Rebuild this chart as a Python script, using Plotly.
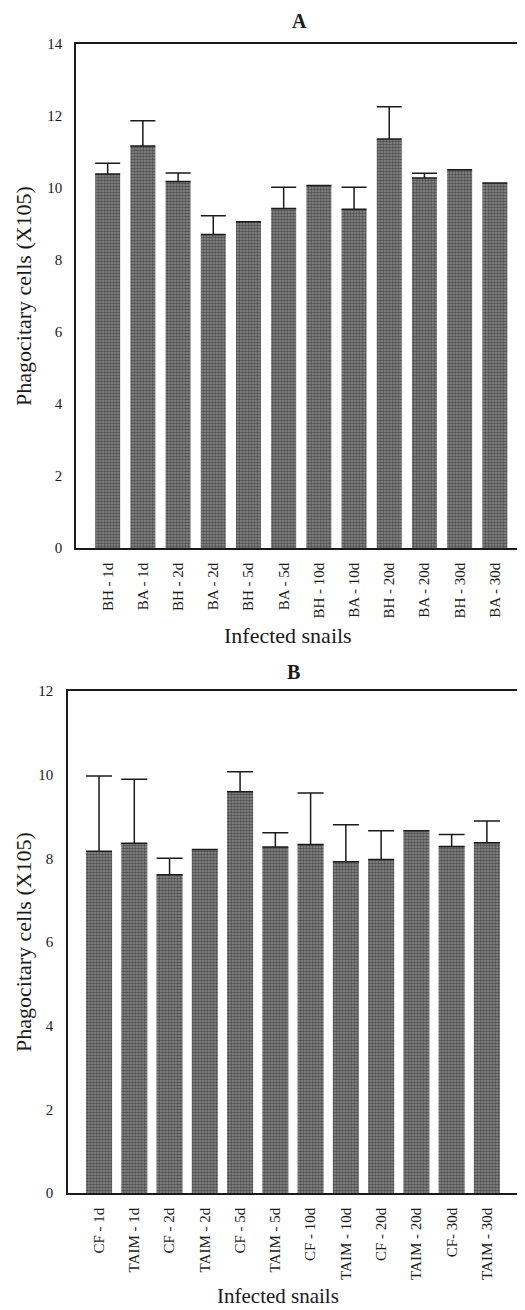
import plotly.graph_objects as go

W, H = 525, 1310
OFF = 8  # default page body margin shifts the figure by this much

cats_a = ["BH - 1d", "BA - 1d", "BH - 2d", "BA - 2d", "BH - 5d", "BA - 5d",
          "BH - 10d", "BA - 10d", "BH - 20d", "BA - 20d", "BH - 30d", "BA - 30d"]
vals_a = [10.39, 11.17, 10.18, 8.71, 9.06, 9.43, 10.07, 9.41, 11.36, 10.28, 10.51, 10.14]
err_a = [0.30, 0.70, 0.24, 0.52, None, 0.59, None, 0.61, 0.90, 0.13, None, None]

cats_b = ["CF - 1d", "TAIM - 1d", "CF - 2d", "TAIM - 2d", "CF - 5d", "TAIM - 5d",
          "CF - 10d", "TAIM - 10d", "CF - 20d", "TAIM - 20d", "CF- 30d", "TAIM - 30d"]
vals_b = [8.17, 8.36, 7.61, 8.21, 9.59, 8.27, 8.33, 7.92, 7.97, 8.66, 8.28, 8.37]
err_b = [1.80, 1.53, 0.39, None, 0.48, 0.34, 1.23, 0.88, 0.69, None, 0.29, 0.52]

yticks_a = [0, 2, 4, 6, 8, 10, 12, 14]
yticks_b = [0, 2, 4, 6, 8, 10, 12]

FONT = "Liberation Serif, Times New Roman, serif"
INK = "#1a1a1a"

def px(x):
    return (x - OFF) / W

def py(y):
    return 1 - (y - OFF) / H

pattern = dict(shape=".", fgcolor="#111111", bgcolor="#8c8c8c", size=3, solidity=0.55)

fig = go.Figure()
fig.add_trace(go.Bar(
    x=cats_a, y=vals_a, width=0.71, xaxis="x", yaxis="y",
    marker=dict(color="#505050", line=dict(width=0), pattern=pattern),
    error_y=dict(type="data", symmetric=False, array=err_a,
                 arrayminus=[0] * len(err_a), visible=True,
                 color=INK, thickness=1.5, width=12.5),
    showlegend=False,
))
fig.add_trace(go.Bar(
    x=cats_b, y=vals_b, width=0.74, xaxis="x2", yaxis="y2",
    marker=dict(color="#505050", line=dict(width=0), pattern=pattern),
    error_y=dict(type="data", symmetric=False, array=err_b,
                 arrayminus=[0] * len(err_b), visible=True,
                 color=INK, thickness=1.5, width=13),
    showlegend=False,
))

axis_common = dict(showline=True, mirror=True, linecolor=INK, linewidth=1.5,
                   showgrid=False, zeroline=False, ticks="", automargin=False,
                   tickfont=dict(family=FONT, size=15, color=INK))

def label(text, x, y, size, angle=0, bold=False):
    return dict(text=f"<b>{text}</b>" if bold else text, x=px(x), y=py(y),
                xref="paper", yref="paper", xanchor="center", yanchor="middle",
                showarrow=False, textangle=angle,
                font=dict(family=FONT, size=size, color=INK))

fig.update_layout(
    width=W, height=H,
    margin=dict(l=0, r=0, t=0, b=0, autoexpand=False),
    paper_bgcolor="white", plot_bgcolor="white",
    bargap=0.3,
    xaxis=dict(domain=[px(76), px(523)], anchor="y", type="category",
               range=[-0.9, 11.8], tickangle=-90, ticklabelstandoff=7, **axis_common),
    yaxis=dict(domain=[py(548), py(44)], anchor="x", range=[0, 14],
               tickvals=yticks_a, ticklabelstandoff=9, **axis_common),
    xaxis2=dict(domain=[px(68), px(519)], anchor="y2", type="category",
                range=[-0.88, 11.91], tickangle=-90, ticklabelstandoff=7, **axis_common),
    yaxis2=dict(domain=[py(1193), py(691)], anchor="x2", range=[0, 12],
                tickvals=yticks_b, ticklabelstandoff=10, **axis_common),
    annotations=[
        label("A", 299, 21, 20, bold=True),
        label("B", 293, 672, 20, bold=True),
        label("Infected snails", 288, 636, 22),
        label("Infected snails", 278, 1296, 21),
        label("Phagocitary cells (X105)", 24, 296, 22, angle=-90),
        label("Phagocitary cells (X105)", 23, 942, 22, angle=-90),
    ],
)

fig.write_html("out.html")
